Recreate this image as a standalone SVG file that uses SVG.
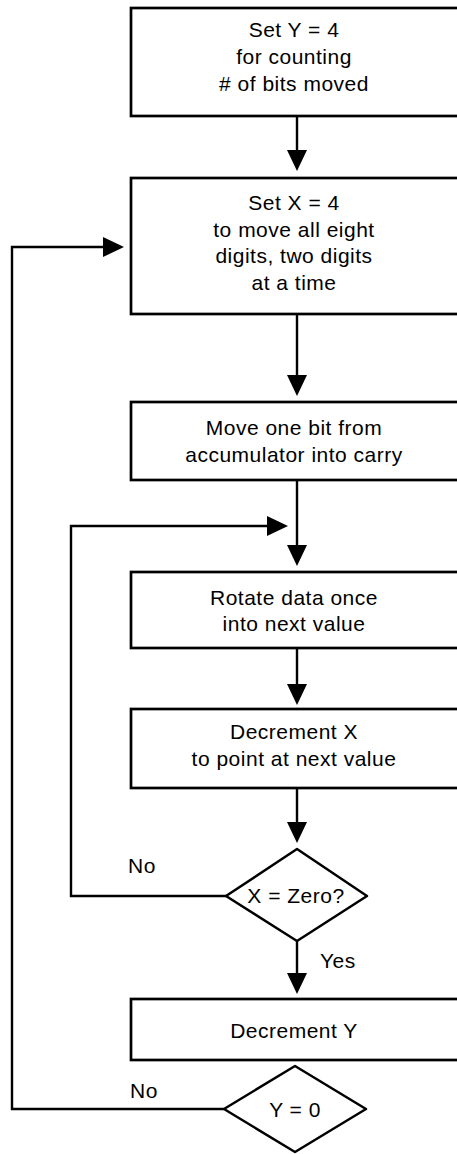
<svg xmlns="http://www.w3.org/2000/svg" width="457" height="1154" viewBox="0 0 457 1154">
<defs>
<style>
.box{fill:#fff;stroke:#000;stroke-width:2.7}
.dia{fill:#fff;stroke:#000;stroke-width:2.5;stroke-linejoin:round}
.ln{fill:none;stroke:#000;stroke-width:2.4}
.ah{fill:#000}
text{font-family:"Liberation Sans",Arial,sans-serif;font-size:21px;letter-spacing:0.5px;fill:#000;text-anchor:middle}
.lbl{text-anchor:start}
</style>
</defs>
<g id="connectors">
<line class="ln" x1="297" y1="116" x2="297" y2="152"/>
<polygon class="ah" points="287,150 307,150 297,171"/>
<line class="ln" x1="297" y1="314" x2="297" y2="377"/>
<polygon class="ah" points="287,375 307,375 297,396"/>
<line class="ln" x1="297" y1="480" x2="297" y2="547"/>
<polygon class="ah" points="287,545 307,545 297,566"/>
<line class="ln" x1="297" y1="648" x2="297" y2="686"/>
<polygon class="ah" points="287,684 307,684 297,705"/>
<line class="ln" x1="297" y1="788" x2="297" y2="824"/>
<polygon class="ah" points="287,822 307,822 297,843"/>
<line class="ln" x1="297" y1="941" x2="297" y2="975"/>
<polygon class="ah" points="287,973 307,973 297,994"/>
<polyline class="ln" points="226,896 71,896 71,526 270,526"/>
<polygon class="ah" points="267,516 267,536 288,526"/>
<polyline class="ln" points="224,1109 12,1109 12,247 106,247"/>
<polygon class="ah" points="103,237 103,257 124,247"/>
</g>
<g id="n1"><rect class="box" x="131" y="8" width="330" height="108"/>
<text x="294" y="37">Set Y = 4</text><text x="294" y="64">for counting</text><text x="294" y="91"># of bits moved</text></g>
<g id="n2"><rect class="box" x="131" y="178" width="330" height="136"/>
<text x="294" y="210">Set X = 4</text><text x="294" y="237">to move all eight</text><text x="294" y="263">digits, two digits</text><text x="294" y="290">at a time</text></g>
<g id="n3"><rect class="box" x="131" y="402" width="330" height="78"/>
<text x="294" y="435">Move one bit from</text><text x="294" y="462">accumulator into carry</text></g>
<g id="n4"><rect class="box" x="131" y="572" width="330" height="76"/>
<text x="294" y="605">Rotate data once</text><text x="294" y="631">into next value</text></g>
<g id="n5"><rect class="box" x="131" y="709" width="330" height="79"/>
<text x="294" y="739">Decrement X</text><text x="294" y="766">to point at next value</text></g>
<g id="d1"><polygon class="dia" points="297,849 367,896 297,941 226,896"/>
<text x="296" y="903">X = Zero?</text></g>
<g id="n6"><rect class="box" x="131" y="999" width="330" height="61"/>
<text x="294" y="1038">Decrement Y</text></g>
<g id="d2"><polygon class="dia" points="295,1066 366,1109 295,1152 224,1109"/>
<text x="295" y="1117">Y = 0</text></g>
<g id="labels">
<text class="lbl" x="128" y="873">No</text>
<text class="lbl" x="320" y="968">Yes</text>
<text class="lbl" x="130" y="1098">No</text>
</g>
</svg>
